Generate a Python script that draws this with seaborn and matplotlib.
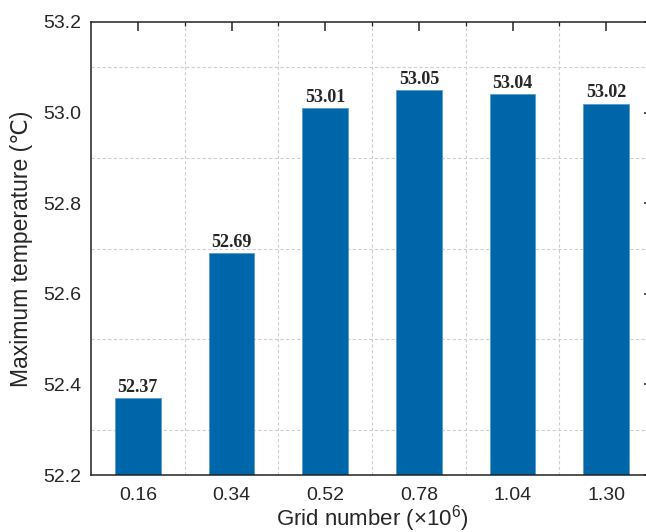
import matplotlib
matplotlib.use("Agg")
import matplotlib.pyplot as plt
import seaborn as sns
import pandas as pd
from matplotlib.ticker import FixedLocator

grid_numbers = ["0.16", "0.34", "0.52", "0.78", "1.04", "1.30"]
max_temperature = [52.37, 52.69, 53.01, 53.05, 53.04, 53.02]
y_major_ticks = [52.2, 52.4, 52.6, 52.8, 53.0, 53.2]
y_minor_ticks = [52.3, 52.5, 52.7, 52.9, 53.1]

df = pd.DataFrame({"grid": grid_numbers, "temp": max_temperature})

sns.set_style("white")
plt.rcParams["font.family"] = ["Liberation Sans", "DejaVu Sans"]
plt.rcParams["mathtext.fontset"] = "custom"
plt.rcParams["mathtext.rm"] = "Liberation Sans"
plt.rcParams["mathtext.it"] = "Liberation Sans:italic"

fig = plt.figure(figsize=(6.46, 5.32), dpi=100)
ax = fig.add_axes([91 / 646, 1 - 475 / 532, 562 / 646, 453 / 532])

sns.barplot(data=df, x="grid", y="temp", ax=ax, color="#0066AA",
            width=0.49, edgecolor="#5A9AD0", linewidth=0.6, saturation=1)

ax.set_xlim(-0.5, len(grid_numbers) - 0.5)
ax.yaxis.set_major_locator(FixedLocator(y_major_ticks))
ax.yaxis.set_minor_locator(FixedLocator(y_minor_ticks))
ax.set_yticklabels([f"{v:.1f}" for v in y_major_ticks])
ax.set_ylim(52.2, 53.2)
ax.xaxis.set_minor_locator(FixedLocator([i + 0.5 for i in range(len(grid_numbers) - 1)]))

ax.grid(False)
ax.grid(which="minor", axis="both", color="#CFCFCF", linestyle=(0, (3, 2)), linewidth=0.8)
ax.set_axisbelow(True)

for s in ax.spines.values():
    s.set_visible(True)
    s.set_color("#222222")
    s.set_linewidth(1.1)

ax.tick_params(which="major", direction="in", length=6.5, width=1.1, color="#222222",
               top=True, right=True, labelsize=14, pad=7)
ax.tick_params(which="minor", direction="in", length=3, width=0.9, color="#222222",
               top=True, right=True)
ax.tick_params(axis="x", which="major", pad=9)

for c in ax.containers:
    ax.bar_label(c, fmt="%.2f", padding=1.5, fontsize=13, fontweight="bold",
                 family="Liberation Serif")

ax.set_xlabel(r"Grid number ($\times$10$^{6}$)", fontsize=16, labelpad=-1)
ax.set_ylabel("Maximum temperature (℃)", fontsize=16.5, labelpad=7)

fig.savefig("out.png", dpi=100)
